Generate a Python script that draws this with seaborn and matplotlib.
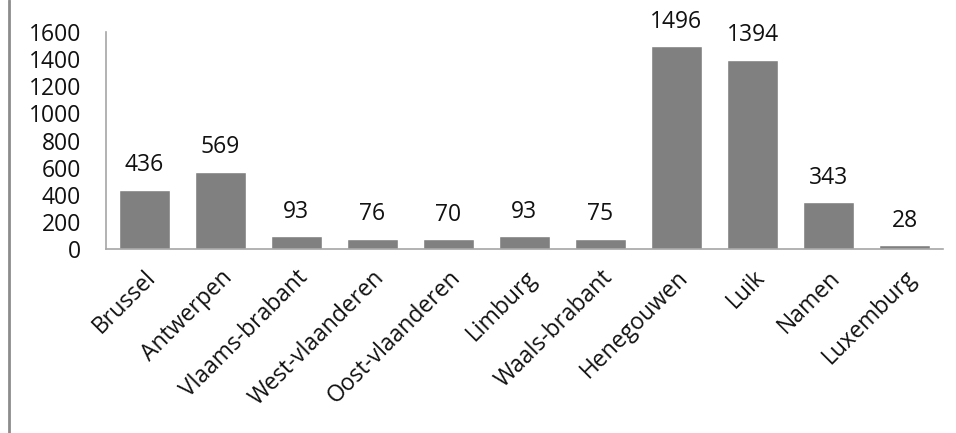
import pandas as pd
import matplotlib.pyplot as plt
import seaborn as sns
from matplotlib.lines import Line2D

# --- data ---
provincies = ['Brussel', 'Antwerpen', 'Vlaams-brabant', 'West-vlaanderen',
              'Oost-vlaanderen', 'Limburg', 'Waals-brabant', 'Henegouwen',
              'Luik', 'Namen', 'Luxemburg']
aantallen = [436, 569, 93, 76, 70, 93, 75, 1496, 1394, 343, 28]
y_ticks = [0, 200, 400, 600, 800, 1000, 1200, 1400, 1600]

df = pd.DataFrame({'provincie': provincies, 'aantal': aantallen})

sns.set_style("white")
plt.rcParams['font.family'] = ['Open Sans', 'DejaVu Sans']

fig = plt.figure(figsize=(9.56, 4.33), dpi=100)
ax = fig.add_axes([0.111, 0.425, 0.875, 0.501])

sns.barplot(data=df, x='provincie', y='aantal', color='#808080',
            width=0.67, saturation=1, ax=ax)

ax.set_ylim(0, 1600)
ax.set_yticks(y_ticks)
ax.set_xlim(-0.5, len(provincies) - 0.5)
ax.set_xlabel('')
ax.set_ylabel('')
ax.tick_params(axis='both', length=0, labelsize=16.5, colors='#111111')
ax.tick_params(axis='y', pad=18)
ax.tick_params(axis='x', pad=12)
plt.setp(ax.get_xticklabels(), rotation=45, ha='right', rotation_mode='anchor')

for s in ['top', 'right']:
    ax.spines[s].set_visible(False)
for s in ['left', 'bottom']:
    ax.spines[s].set_color('#a6a6a6')
    ax.spines[s].set_linewidth(1.2)

for p, v in zip(ax.patches, aantallen):
    ax.annotate(str(v), (p.get_x() + p.get_width() / 2, p.get_height()),
                xytext=(0, 9), textcoords='offset points',
                ha='center', va='bottom', fontsize=16.5, color='#111111')

# linker rand van de grafiek
fig.add_artist(Line2D([0.0095, 0.0095], [0, 1], transform=fig.transFigure,
                      color='#8c8c8c', linewidth=2))

fig.savefig('out.png', dpi=100)
